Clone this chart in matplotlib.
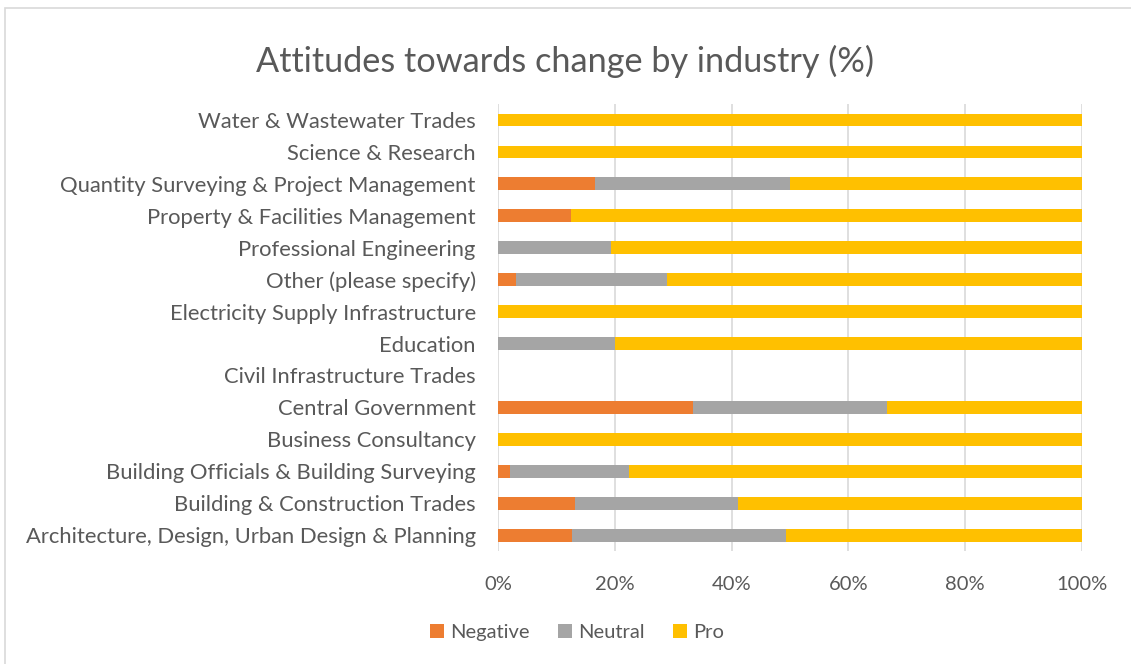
import matplotlib.pyplot as plt
import numpy as np
from matplotlib.patches import Rectangle
from matplotlib.ticker import FuncFormatter

# categories bottom -> top (as drawn)
industries = [
    'Architecture, Design, Urban Design & Planning',
    'Building & Construction Trades',
    'Building Officials & Building Surveying',
    'Business Consultancy',
    'Central Government',
    'Civil Infrastructure Trades',
    'Education',
    'Electricity Supply Infrastructure',
    'Other (please specify)',
    'Professional Engineering',
    'Property & Facilities Management',
    'Quantity Surveying & Project Management',
    'Science & Research',
    'Water & Wastewater Trades',
]
negative = [12.7, 13.2, 2.0, 0, 33.33, 0, 0, 0, 3.1, 0, 12.5, 16.67, 0, 0]
neutral = [36.7, 27.9, 20.4, 0, 33.33, 0, 20.0, 0, 25.9, 19.35, 0, 33.33, 0, 0]
pro = [50.6, 58.9, 77.6, 100, 33.34, 0, 80.0, 100, 71.0, 80.65, 87.5, 50.0, 100, 100]

c_neg = '#ED7D31'
c_neu = '#A5A5A5'
c_pro = '#FFC000'
txt = '#595959'

plt.rcParams['font.family'] = ['Lato', 'DejaVu Sans']

fig = plt.figure(figsize=(11.31, 6.64), dpi=100)
ax = fig.add_axes([0.4403, 0.170, 0.5164, 0.6734])

y = np.arange(len(industries))
neg = np.array(negative)
neu = np.array(neutral)
pr = np.array(pro)
h = 0.4
ax.barh(y, neg, height=h, color=c_neg, label='Negative', zorder=3)
ax.barh(y, neu, left=neg, height=h, color=c_neu, label='Neutral', zorder=3)
ax.barh(y, pr, left=neg + neu, height=h, color=c_pro, label='Pro', zorder=3)

ax.set_xlim(0, 100)
ax.set_ylim(-0.5, len(industries) - 0.5)
ax.set_xticks(np.arange(0, 101, 20))
ax.xaxis.set_major_formatter(FuncFormatter(lambda v, p: f'{v:.0f}%'))
ax.set_yticks(y)
ax.set_yticklabels(industries)
ax.tick_params(axis='x', length=0, labelsize=14.5, colors=txt, pad=18)
ax.tick_params(axis='y', length=0, labelsize=15.8, colors=txt, pad=16)
ax.grid(axis='x', color='#D9D9D9', linewidth=1.2, zorder=0)
for s in ax.spines.values():
    s.set_visible(False)

fig.text(0.5, 0.907, 'Attitudes towards change by industry (%)', ha='center',
         va='center', fontsize=24.7, color=txt)

fig.legend(loc='center', bbox_to_anchor=(0.51, 0.047), ncol=3, frameon=False,
           fontsize=14.5, handlelength=0.7, handleheight=0.7, handletextpad=0.3,
           columnspacing=1.4, labelcolor=txt)

fig.patches.append(Rectangle((0.004, -0.01), 1.1, 0.998, transform=fig.transFigure,
                             fill=False, edgecolor='#D9D9D9', linewidth=1.2))

fig.savefig('out.png', dpi=100)
